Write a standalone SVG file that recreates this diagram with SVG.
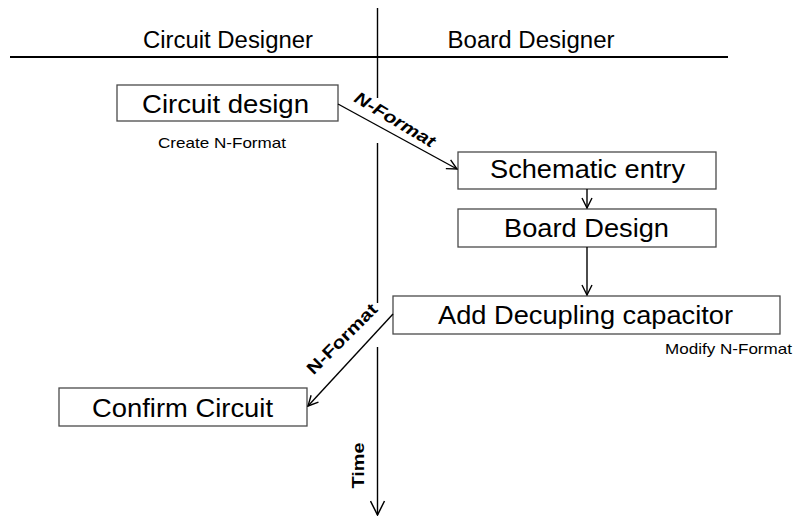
<svg xmlns="http://www.w3.org/2000/svg" width="794" height="518" viewBox="0 0 794 518">
  <style>
    .box { fill: #ffffff; stroke: #4a4a4a; stroke-width: 1.3; }
    .lbl { font-family: "Liberation Sans", Arial, sans-serif; fill: #000000; }
    .big { font-size: 25px; text-anchor: middle; }
    .head { font-size: 23px; text-anchor: middle; }
    .note { font-size: 14.5px; }
    .tag { font-size: 17px; font-weight: bold; text-anchor: middle; }
    .wire { fill: none; stroke: #000000; stroke-width: 1.4; }
    .rule { fill: none; stroke: #000000; stroke-width: 2; }
  </style>
  <defs>
    <marker id="open" viewBox="0 0 12 12" refX="11" refY="6" markerWidth="12" markerHeight="12" markerUnits="userSpaceOnUse" orient="auto">
      <path d="M1,1 L11,6 L1,11" fill="none" stroke="#000000" stroke-width="1.4"/>
    </marker>
    <marker id="time" viewBox="0 0 16 16" refX="15" refY="8" markerWidth="16" markerHeight="16" markerUnits="userSpaceOnUse" orient="auto">
      <path d="M1,1 L15,8 L1,15" fill="none" stroke="#000000" stroke-width="1.5"/>
    </marker>
  </defs>

  <rect width="794" height="518" fill="#ffffff"/>

  <!-- swimlane headers -->
  <g id="lanes">
    <line class="rule" x1="10" y1="57" x2="728" y2="57"/>
    <text class="lbl head" x="228" y="48" textLength="170" lengthAdjust="spacingAndGlyphs">Circuit Designer</text>
    <text class="lbl head" x="531" y="48" textLength="167" lengthAdjust="spacingAndGlyphs">Board Designer</text>
  </g>

  <!-- time axis, broken where the hand-off labels cross it -->
  <g id="time-axis">
    <path class="wire" d="M377.5,8 V98 M377.5,143 V303 M377.5,347 V515" marker-end="url(#time)"/>
    <text class="lbl tag" transform="translate(363.5,465.5) rotate(-90)" font-size="18" textLength="46" lengthAdjust="spacingAndGlyphs">Time</text>
  </g>

  <g id="circuit-design">
    <rect class="box" x="117" y="85" width="221" height="36"/>
    <text class="lbl big" x="225.5" y="113" textLength="167" lengthAdjust="spacingAndGlyphs">Circuit design</text>
    <text class="lbl note" x="158" y="148" textLength="128" lengthAdjust="spacingAndGlyphs">Create N-Format</text>
  </g>

  <g id="schematic-entry">
    <rect class="box" x="458" y="152" width="258" height="37"/>
    <text class="lbl big" x="587.5" y="178" textLength="195" lengthAdjust="spacingAndGlyphs">Schematic entry</text>
  </g>

  <g id="board-design">
    <rect class="box" x="458" y="209" width="258" height="38"/>
    <text class="lbl big" x="586.5" y="237" textLength="165" lengthAdjust="spacingAndGlyphs">Board Design</text>
  </g>

  <g id="add-decoupling">
    <rect class="box" x="393" y="296" width="387" height="38"/>
    <text class="lbl big" x="585.5" y="324" textLength="295" lengthAdjust="spacingAndGlyphs">Add Decupling capacitor</text>
    <text class="lbl note" x="665" y="354" textLength="127" lengthAdjust="spacingAndGlyphs">Modify N-Format</text>
  </g>

  <g id="confirm-circuit">
    <rect class="box" x="59" y="388" width="248" height="38"/>
    <text class="lbl big" x="182.5" y="417" textLength="181" lengthAdjust="spacingAndGlyphs">Confirm Circuit</text>
  </g>

  <!-- connectors -->
  <g id="connectors">
    <line class="wire" x1="338" y1="104" x2="457" y2="169" marker-end="url(#open)"/>
    <line class="wire" x1="587" y1="189" x2="587" y2="208" marker-end="url(#open)"/>
    <line class="wire" x1="587" y1="247" x2="587" y2="295" marker-end="url(#open)"/>
    <line class="wire" x1="393" y1="314" x2="308" y2="406" marker-end="url(#open)"/>
    <text class="lbl tag" font-style="italic" transform="translate(392,124.5) rotate(31)" textLength="91" lengthAdjust="spacingAndGlyphs">N-Format</text>
    <text class="lbl tag" transform="translate(346,343) rotate(-45)" textLength="92" lengthAdjust="spacingAndGlyphs">N-Format</text>
  </g>
</svg>
